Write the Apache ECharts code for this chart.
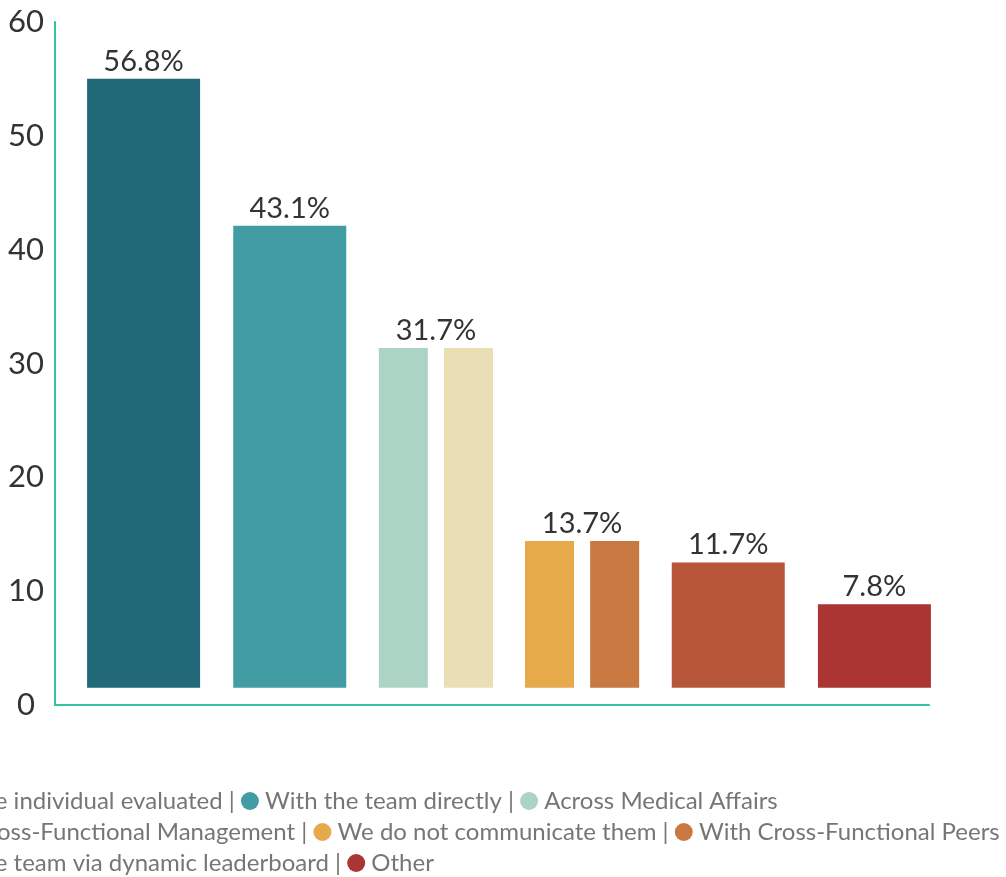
<!DOCTYPE html>
<html>
<head>
<meta charset="utf-8">
<script src="https://cdn.jsdelivr.net/npm/echarts@6/dist/echarts.min.js"></script>
<style>
  html, body { margin: 0; padding: 0; background: #fff; }
  #chart { width: 1006px; height: 877px; }
</style>
</head>
<body>
<div id="chart"></div>
<script>
// groups on the x axis (two of them hold a pair of bars)
const categories = [
  'With the individual evaluated',
  'With the team directly',
  'Across Medical Affairs / With Cross-Functional Management',
  'We do not communicate them / With Cross-Functional Peers',
  'With the team via dynamic leaderboard',
  'Other'
];
// value shown above each group
const groupValues = [56.8, 43.1, 31.7, 13.7, 11.7, 7.8];
// the paired bars
const pairLeftValues = [null, null, 31.7, 13.7, null, null];
const pairRightValues = [null, null, 31.7, 13.7, null, null];
// y axis ticks
const yMin = 0, yMax = 60, yStep = 10;

const legendNames = [
  'With the individual evaluated',
  'With the team directly',
  'Across Medical Affairs',
  'With Cross-Functional Management',
  'We do not communicate them',
  'With Cross-Functional Peers',
  'With the team via dynamic leaderboard',
  'Other'
];
const colors = ['#216878', '#419da3', '#abd4c5', '#e9deb4', '#e6aa4b', '#c97841', '#b75538', '#aa3533'];
const legendRows = [[0, 1, 2], [3, 4, 5], [6, 7]];
const legendSep = [' | ', ' | ', '', ' | ', ' | ', '', ' | ', ''];

const singleColor = [colors[0], colors[1], 'transparent', 'transparent', colors[6], colors[7]];
const leftColor = [null, null, colors[2], colors[4], null, null];
const rightColor = [null, null, colors[3], colors[5], null, null];

const chart = echarts.init(document.getElementById('chart'));

const rich = {};
colors.forEach((c, i) => {
  rich['m' + i] = { width: 18, height: 18, borderRadius: 9, backgroundColor: c };
});
const legendGraphics = legendRows.map((row, r) => {
  const text = row.map(i => '{m' + i + '| } ' + legendNames[i] + legendSep[i]).join('');
  return {
    type: 'text',
    left: -110,
    top: 789 + r * 31,
    style: {
      text: text,
      font: '24px Lato',
      fill: '#767676',
      rich: rich
    }
  };
});

const option = {
  animation: false,
  grid: [
    { left: 55, right: 77, top: 22, bottom: 172 },
    { left: 70.5, right: 58.5, top: 22, bottom: 172 }
  ],
  xAxis: [
    {
      type: 'category', gridIndex: 0, data: categories,
      axisLine: { lineStyle: { color: '#33c3a1', width: 2 } },
      axisTick: { show: false }, axisLabel: { show: false }
    },
    { type: 'category', gridIndex: 1, data: categories, show: false },
    { type: 'category', gridIndex: 1, data: categories, show: false }
  ],
  yAxis: [
    {
      type: 'value', gridIndex: 0, min: yMin, max: yMax, interval: yStep,
      axisLine: { show: true, lineStyle: { color: '#33c3a1', width: 2 } },
      axisTick: { show: false },
      splitLine: { show: false },
      axisLabel: { color: '#333', fontSize: 31, fontFamily: 'Lato', align: 'center', margin: 29 }
    },
    { type: 'value', gridIndex: 1, min: -1.6, max: 62.1, show: false }
  ],
  series: [
    {
      type: 'bar', xAxisIndex: 1, yAxisIndex: 1, barWidth: 113,
      data: groupValues.map((v, i) => ({ value: v, itemStyle: { color: singleColor[i] } })),
      label: {
        show: true, position: 'top', distance: 3,
        formatter: p => p.value + '%',
        color: '#333', fontSize: 29, fontFamily: 'Lato'
      }
    },
    {
      type: 'bar', xAxisIndex: 2, yAxisIndex: 1, barWidth: 49, barGap: '33%',
      data: pairLeftValues.map((v, i) => v == null ? '-' : { value: v, itemStyle: { color: leftColor[i] } })
    },
    {
      type: 'bar', xAxisIndex: 2, yAxisIndex: 1, barWidth: 49, barGap: '33%',
      data: pairRightValues.map((v, i) => v == null ? '-' : { value: v, itemStyle: { color: rightColor[i] } })
    }
  ],
  graphic: legendGraphics
};

chart.setOption(option);
</script>
</body>
</html>
